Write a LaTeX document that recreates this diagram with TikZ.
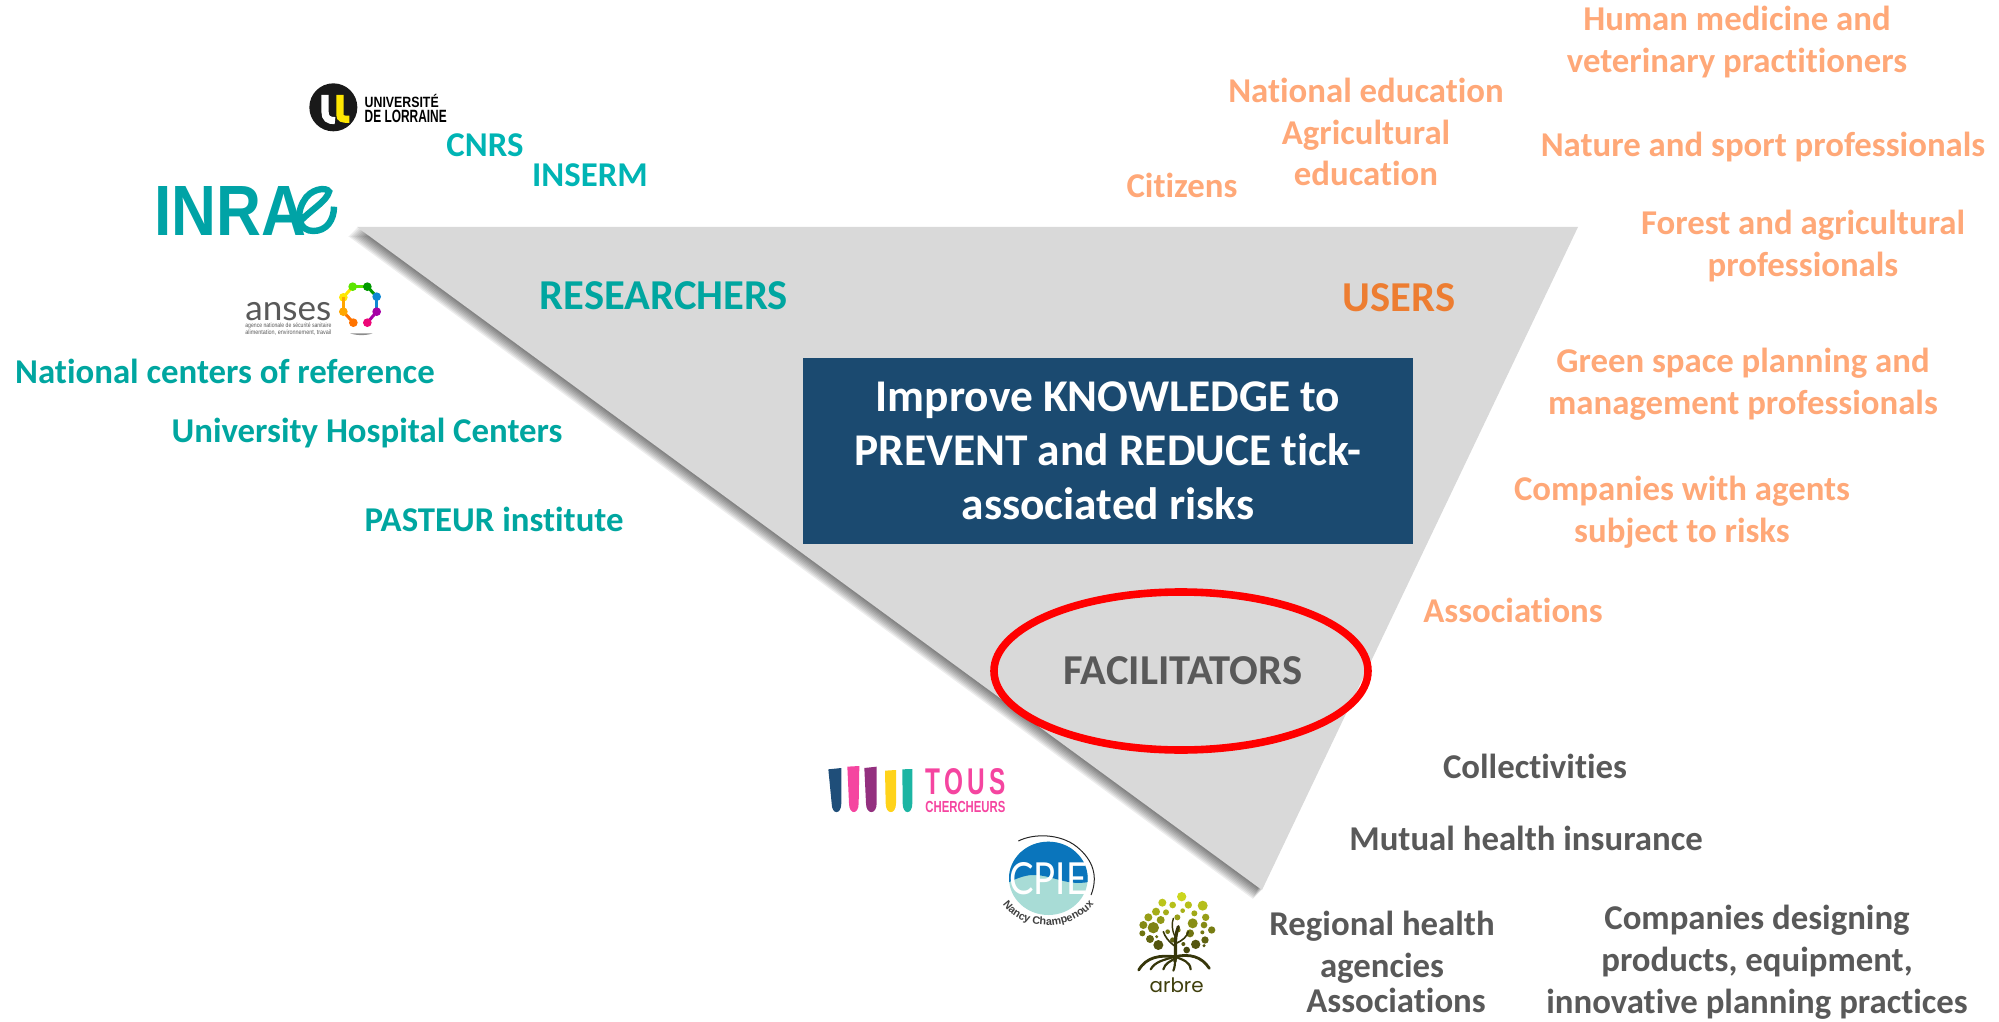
\documentclass[tikz,border=0pt]{standalone}
\usepackage{fontspec}
\usepackage{graphicx}
\setmainfont{Carlito}[Ligatures=NoCommon]
\newfontfamily\lib{Liberation Sans}
\newfontfamily\pop{Poppins}
\newfontfamily\lat{Lato}
\usetikzlibrary{decorations.text}
\definecolor{tealA}{HTML}{00A6A0}
\definecolor{tealB}{HTML}{00B4B4}
\definecolor{orangeL}{HTML}{FFA878}
\definecolor{orangeD}{HTML}{ED7D31}
\definecolor{greyT}{HTML}{595959}
\definecolor{boxB}{HTML}{1B4A70}
\definecolor{triG}{HTML}{D9D9D9}
\definecolor{treeTop}{HTML}{CBD61E}
\definecolor{treeBot}{HTML}{3F3F0C}
\definecolor{inraT}{HTML}{00A3A6}
\definecolor{tousP}{HTML}{F545A0}
\definecolor{cpieB}{HTML}{0A75BC}
\definecolor{cpieT}{HTML}{A8DCD6}
\tikzset{
 lbl/.style={inner sep=0pt,align=center,font=\bfseries\fontsize{17.4}{20.9}\selectfont},
 tealtxt/.style={lbl,text=tealA},
 tealb/.style={lbl,text=tealB},
 oran/.style={lbl,text=orangeL},
 greytxt/.style={lbl,text=greyT},
 head/.style={inner sep=0pt,font=\bfseries\fontsize{21.3}{25}\selectfont},
 logotxt/.style={inner sep=0pt,anchor=west},
 zoomed/.style={x=0.16667pt,y=-0.16667pt},
 root/.style={draw=treeBot!85!black,line cap=round,line width=1.1pt}
}
\begin{document}
\begin{tikzpicture}[x=0.5pt,y=-0.5pt]
\useasboundingbox (0,0) rectangle (1999,1022);
% triangle with soft shadow
\foreach \i in {1,...,9}{
  \fill[black,opacity=0.07] ({357-\i*1.0},{227+\i*1.0}) -- ({1578-\i*1.0},{227+\i*1.0}) -- ({1262-\i*1.0},{890+\i*1.0}) -- cycle;
}
\fill[triG] (357,227) -- (1578,227) -- (1262,890) -- cycle;
% centre box
\node[fill=boxB,text=white,minimum width=305pt,minimum height=93pt,inner sep=0pt,align=center,font=\bfseries\fontsize{22.7}{27}\selectfont] (goal) at (1108,451) {Improve KNOWLEDGE to\\PREVENT and REDUCE tick-\\associated risks};
\draw[red,line width=3.8pt] (1181,671) ellipse [x radius=187,y radius=79];
% headings
\node[head,text=tealA] (res) at (664,296) {RESEARCHERS};
\node[head,text=orangeD] (users) at (1399,298) {USERS};
\node[head,text=greyT] (fac) at (1183,671) {FACILITATORS};
% researchers
\node[tealb] (cnrs) at (485,145) {CNRS};
\node[tealb] (inserm) at (590,175) {INSERM};
\node[tealtxt] (ncr) at (225,371) {National centers of reference};
\node[tealtxt] (uhc) at (367,433) {University Hospital Centers};
\node[tealtxt] (pasteur) at (494,519) {PASTEUR institute};
% users
\node[oran] (u1) at (1737,42) {Human medicine and\\veterinary practitioners};
\node[oran] (u2) at (1366,132) {National education\\Agricultural\\education};
\node[oran] (u3) at (1763,147) {Nature and sport professionals};
\node[oran] (u4) at (1182,185) {Citizens};
\node[oran] (u5) at (1803,246) {Forest and agricultural\\professionals};
\node[oran] (u6) at (1743,384) {Green space planning and\\management professionals};
\node[oran] (u7) at (1682,512) {Companies with agents\\subject to risks};
\node[oran] (u8) at (1513,610) {Associations};
% facilitators
\node[greytxt] (f1) at (1535,766) {Collectivities};
\node[greytxt] (f2) at (1526,838) {Mutual health insurance};
\node[greytxt] (f3) at (1382,947) {Regional health\\agencies};
\node[greytxt] (f4) at (1396,1000) {Associations};
\node[greytxt] (f5) at (1757,962) {Companies designing\\products, equipment,\\innovative planning practices};
% Universite de Lorraine logo
\begin{scope}[shift={(130,60)},zoomed]
 \fill[black!90] (610,142) circle [radius=72];
 \draw[white,line width=3.6pt] (585,105) -- (585,155) .. controls (585,175) and (595,182) .. (615,182);
 \draw[yellow!90!orange,line width=3.6pt] (630,105) -- (630,165) .. controls (630,175) and (636,178) .. (658,178);
 \node[logotxt] (ul1) at (703,122) {\resizebox{37pt}{6.6pt}{\lib\bfseries UNIVERSITÉ}};
 \node[logotxt] (ul2) at (703,168) {\resizebox{41pt}{6.2pt}{\lib\bfseries DE LORRAINE}};
\end{scope}
% INRAE logo
\node[logotxt,text=inraT] (inra) at (154,211) {\resizebox{76pt}{24.5pt}{\lib\bfseries INRA}};
\begin{scope}[shift={(130,60)},zoomed]
 \draw[inraT,line width=3.2pt] (505,490) .. controls (540,450) and (590,425) .. (597,395) .. controls (590,380) and (540,385) .. (520,425) .. controls (495,470) and (510,513) .. (550,513) .. controls (590,513) and (612,480) .. (612,440);
\end{scope}
% anses logo
\begin{scope}[shift={(130,60)},zoomed]
 \node[logotxt,text=greyT] (an1) at (345,755) {\resizebox{43pt}{!}{\lat anses}};
 \node[logotxt,text=greyT] (an2) at (345,797) {\resizebox{43pt}{2.3pt}{\lib agence nationale de sécurité sanitaire}};
 \node[logotxt,text=greyT] (an3) at (345,819) {\resizebox{43pt}{2.3pt}{\lib alimentation, environnement, travail}};
 \foreach \cx/\cy/\nx/\ny/\col in {640/712/668/680/yellow!90!orange,668/680/712/680/green!60!yellow!90!black,712/680/740/710/green!60!black,740/710/740/755/cyan!70!blue,740/755/712/788/violet!70!magenta,712/788/712/788/magenta!80!red,670/788/640/755/orange!90!red,640/755/640/712/orange!70!yellow}{
  \draw[\col,line width=1.5pt] (\cx,\cy) -- (\nx,\ny);
  \fill[\col] (\cx,\cy) circle [radius=13];
 }
 \fill[black!45] (660,820) .. controls (680,827) and (710,827) .. (728,820) -- cycle;
\end{scope}
% Tous chercheurs logo
\begin{scope}[shift={(800,740)},zoomed]
 \foreach \xa/\xb/\ya/\yb/\xc/\xd/\col in {85/124/88/84/95/124/1F4E79,142/178/80/78/147/176/F545A0,193/230/84/80/198/230/93307F,255/288/92/90/257/288/FFD31A,307/337/88/87/308/337/1CB5A3}{
  \definecolor{tc}{HTML}{\col}
  \fill[tc] (\xa,\ya) -- (\xb,\yb) -- (\xd,190) .. controls (\xd,225) and (\xc,225) .. (\xc,190) -- cycle;
 }
 \node[logotxt,text=tousP] (tous) at (375,126) {\resizebox{40pt}{13pt}{\lib\bfseries T\,O\,U\,S}};
 \node[logotxt,text=tousP] (cherch) at (375,202) {\resizebox{40pt}{5.6pt}{\lib\bfseries CHERCHEURS}};
\end{scope}
% CPIE logo
\begin{scope}[shift={(800,740)},zoomed]
 \begin{scope}
  \clip (745,415) ellipse [x radius=118,y radius=110];
  \fill[cpieT] (620,300) rectangle (870,530);
  \fill[cpieB] (620,300) -- (870,300) -- (870,425) .. controls (800,440) and (760,405) .. (700,405) .. controls (670,405) and (640,420) .. (620,430) -- cycle;
 \end{scope}
 \node[inner sep=0pt,text=white] (cpie) at (745,417) {\resizebox{39pt}{16pt}{\lat CPIE}};
 \draw[black!85,line width=0.5pt] (655,303) .. controls (700,280) and (780,280) .. (830,320) .. controls (880,360) and (895,410) .. (873,465);
 \path[decorate,decoration={text along path,text align=center,text={|\lib\bfseries\fontsize{5.4}{6}\selectfont\color{black!75}|Nancy Champenoux}}] (612,498) .. controls (670,575) and (810,575) .. (878,498);
\end{scope}
% Arbre logo
\begin{scope}[shift={(800,740)},zoomed]
 \foreach \cx/\cy/\rr in {1145/470/14,1087/488/12,1165/495/11,1208/497/15,1118/495/10,1068/515/12,1098/517/9,1148/512/7,1183/520/9,1217/532/11,1045/532/12,1082/540/12,1132/532/9,1178/550/15,1030/555/12,1060/563/17,1212/555/10,1235/570/11,1027/580/9,1103/575/7,1135/570/7,1170/580/12,1207/577/6,1050/597/12,1215/600/11,1075/615/15,1118/600/8,1150/612/6,1187/613/14,1160/630/10,1212/617/5,1070/590/5}{
  \pgfmathtruncatemacro\pp{max(0,min(100,100-(\cy-470)*100/170))}
  \fill[treeTop!\pp!treeBot] (\cx,\cy) circle [radius=\rr];
 }
 \draw[root,line width=1.6pt] (1125,665) .. controls (1130,630) and (1120,600) .. (1135,560);
 \draw[root,line width=0.8pt] (1127,620) .. controls (1105,605) and (1095,590) .. (1090,575);
 \draw[root,line width=0.8pt] (1128,610) .. controls (1150,600) and (1160,590) .. (1165,575);
 \draw[root,line width=0.7pt] (1125,590) .. controls (1115,570) and (1115,550) .. (1120,535);
 \draw[root,line width=1.4pt] (1125,650) .. controls (1080,645) and (1040,650) .. (1016,690);
 \draw[root] (1125,650) .. controls (1090,660) and (1065,665) .. (1052,688);
 \draw[root] (1125,655) .. controls (1110,665) and (1095,670) .. (1090,688);
 \draw[root] (1125,655) .. controls (1125,670) and (1125,680) .. (1120,692);
 \draw[root] (1125,650) .. controls (1150,660) and (1170,665) .. (1172,688);
 \draw[root,line width=1.4pt] (1125,650) .. controls (1170,640) and (1205,650) .. (1228,685);
 \node[inner sep=0pt,text=treeBot] (arbre) at (1130,737) {\resizebox{27pt}{!}{\pop arbre}};
\end{scope}
\end{tikzpicture}
\end{document}
